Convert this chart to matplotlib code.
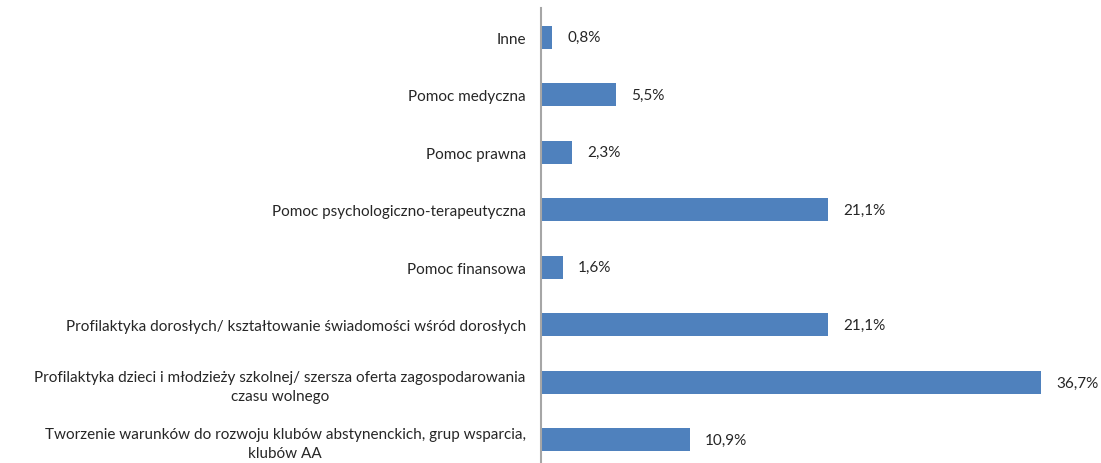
import matplotlib.pyplot as plt

plt.rcParams['font.family'] = ['Lato', 'DejaVu Sans']

categories = [
    'Inne',
    'Pomoc medyczna',
    'Pomoc prawna',
    'Pomoc psychologiczno-terapeutyczna',
    'Pomoc finansowa',
    'Profilaktyka dorosłych/ kształtowanie świadomości wśród dorosłych',
    'Profilaktyka dzieci i młodzieży szkolnej/ szersza oferta zagospodarowania\nczasu wolnego',
    'Tworzenie warunków do rozwoju klubów abstynenckich, grup wsparcia,\nklubów AA',
]
values = [0.8, 5.5, 2.3, 21.1, 1.6, 21.1, 36.7, 10.9]
value_labels = ['0,8%', '5,5%', '2,3%', '21,1%', '1,6%', '21,1%', '36,7%', '10,9%']

fig = plt.figure(figsize=(11.01, 4.64), dpi=100)
W, H = 1101, 464
x0, x1 = 541, 1041
top, bottom = 9.25, 469.75
ax = fig.add_axes([x0 / W, (H - bottom) / H, (x1 - x0) / W, (bottom - top) / H])

ypos = list(range(len(categories)))
ax.barh(ypos, values, height=0.4, color='#4F81BD')
ax.set_xlim(0, 36.7)
ax.set_ylim(len(categories) - 0.5, -0.5)

for y, v, lab in zip(ypos, values, value_labels):
    ax.annotate(lab, (v, y), xytext=(11, 0), textcoords='offset points',
                va='center', ha='left', fontsize=11, color='#262626')

ax.set_yticks(ypos)
ax.set_yticklabels(categories, fontsize=11, color='#262626',
                   multialignment='center', linespacing=1.45)
ax.tick_params(axis='y', length=0, pad=11)
ax.set_xticks([])
for s in ['top', 'right', 'bottom']:
    ax.spines[s].set_visible(False)
ax.spines['left'].set_color('#A6A6A6')
ax.spines['left'].set_linewidth(1.5)

fig.savefig('out.png', dpi=100)
